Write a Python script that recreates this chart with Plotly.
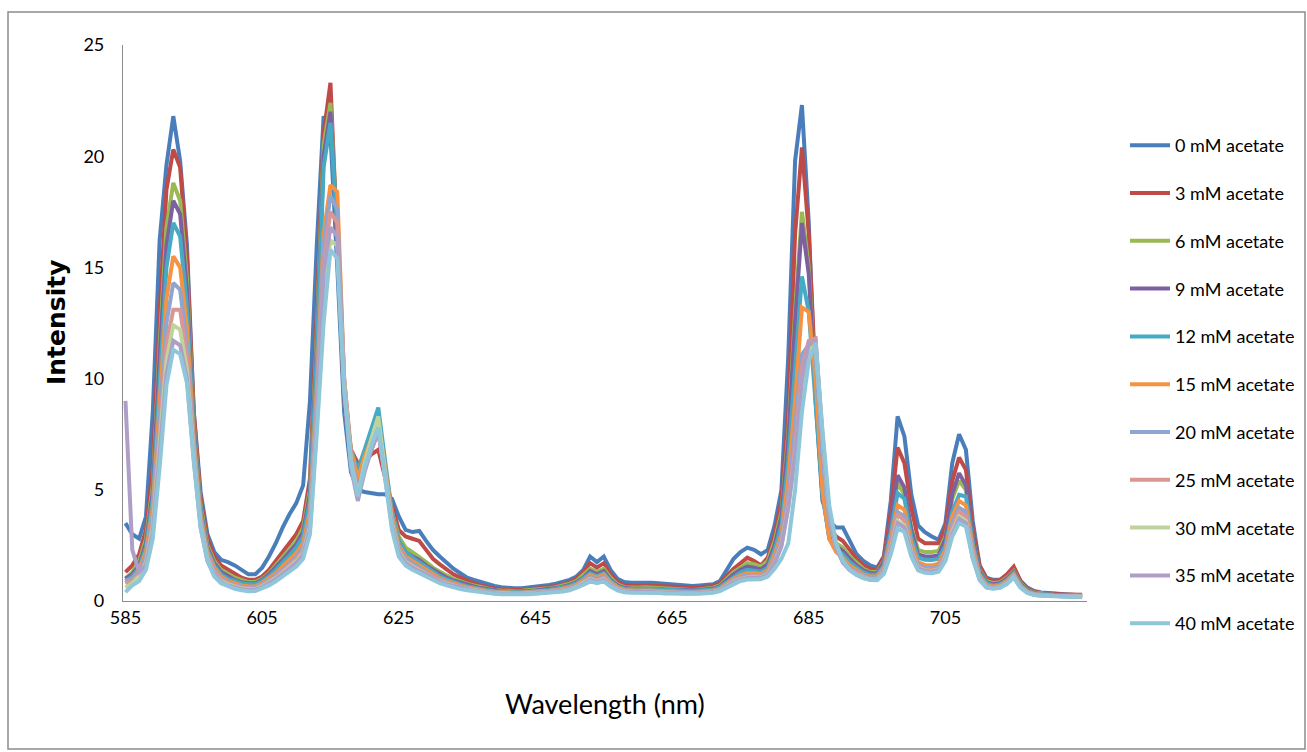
import plotly.graph_objects as go

wavelength = list(range(585, 726))

series_names = ["0 mM acetate", "3 mM acetate", "6 mM acetate", "9 mM acetate",
                "12 mM acetate", "15 mM acetate", "20 mM acetate", "25 mM acetate",
                "30 mM acetate", "35 mM acetate", "40 mM acetate"]

colors = ["#4A7EBB", "#BE4B48", "#98B954", "#7D60A0", "#46AAC5", "#F69240",
          "#8EA5D1", "#D99694", "#BFD49B", "#AD9FC7", "#8FC6DA"]

acetate_0 = [3.5, 3.0, 2.8, 3.8, 8.5, 16.2, 19.6, 21.8, 19.8, 16.0, 8.5, 4.9, 3.0, 2.2, 1.85, 1.75,
             1.6, 1.4, 1.2, 1.2, 1.5, 2.0, 2.6, 3.3, 3.9, 4.4, 5.2, 9.0, 16.0, 21.8,
             21.0, 15.0, 8.5, 5.8, 5.0, 4.9, 4.85, 4.8, 4.8, 4.6, 3.8, 3.2, 3.1, 3.15, 2.7, 2.3,
             2.0, 1.7, 1.45, 1.25, 1.05, 0.95, 0.85, 0.75, 0.68, 0.62, 0.58, 0.57, 0.57, 0.6, 0.63, 0.67, 0.72, 0.78, 0.85, 0.95,
             1.1, 1.4, 2.0, 1.75, 2.0, 1.4, 1.0, 0.85, 0.82, 0.82, 0.85, 0.82, 0.8, 0.78, 0.75, 0.72, 0.68, 0.68, 0.7, 0.72,
             0.75, 0.9, 1.4, 1.9, 2.2, 2.4, 2.3, 2.1, 2.3, 3.4, 5.0, 11.0, 19.8, 22.3, 17.0, 9.0, 4.5, 3.6, 3.3, 3.3,
             2.7, 2.1, 1.8, 1.6, 1.5, 2.0, 4.5, 8.3, 7.4, 4.8, 3.4, 3.1, 2.9, 2.75, 3.5, 6.2, 7.5, 6.8, 3.6, 1.6,
             1.05, 0.95, 0.95, 1.1, 1.45, 0.9, 0.6, 0.45, 0.38, 0.35, 0.32, 0.3, 0.28, 0.27, 0.27]

acetate_3 = [1.3, 1.6, 2.1, 3.2, 6.0, 13.0, 18.5, 20.3, 19.5, 15.5, 8.5, 4.6, 2.8, 2.0, 1.6, 1.4,
             1.2, 1.05, 0.95, 0.95, 1.1, 1.4, 1.8, 2.2, 2.6, 3.0, 3.6, 5.5, 13.0, 21.0,
             23.3, 16.5, 9.0, 6.8, 6.2, 6.3, 6.6, 6.8, 5.5, 4.3, 3.2, 2.9, 2.8, 2.7, 2.3, 1.9,
             1.65, 1.4, 1.2, 1.05, 0.9, 0.8, 0.7, 0.62, 0.56, 0.52, 0.5, 0.5, 0.5, 0.52, 0.55, 0.58, 0.62, 0.68, 0.75, 0.85,
             1.0, 1.3, 1.7, 1.5, 1.7, 1.2, 0.85, 0.72, 0.7, 0.7, 0.72, 0.7, 0.68, 0.66, 0.64, 0.62, 0.6, 0.6, 0.62, 0.64,
             0.68, 0.8, 1.15, 1.45, 1.7, 1.95, 1.8, 1.6, 1.95, 3.0, 4.5, 8.5, 16.5, 20.4, 16.5, 10.0, 5.2, 3.3, 2.9, 2.7,
             2.3, 1.9, 1.6, 1.45, 1.4, 2.0, 4.0, 6.9, 6.2, 4.2, 2.8, 2.6, 2.6, 2.6, 3.3, 5.4, 6.45, 5.9, 3.2, 1.6,
             1.0, 0.9, 0.95, 1.2, 1.55, 0.9, 0.55, 0.42, 0.36, 0.33, 0.31, 0.3, 0.29, 0.28, 0.28]

acetate_6 = [1.0, 1.3, 1.8, 2.8, 5.2, 11.5, 16.8, 18.8, 18.0, 14.5, 8.0, 4.3, 2.5, 1.8, 1.4, 1.2,
             1.05, 0.95, 0.85, 0.85, 1.0, 1.25, 1.6, 1.95, 2.35, 2.7, 3.3, 5.0, 12.0, 20.5,
             22.4, 16.5, 9.0, 6.3, 5.4, 6.3, 7.2, 8.0, 6.0, 4.0, 2.9, 2.4, 2.2, 2.0, 1.75, 1.5,
             1.3, 1.15, 1.0, 0.88, 0.78, 0.7, 0.62, 0.56, 0.5, 0.47, 0.45, 0.45, 0.46, 0.48, 0.5, 0.53, 0.57, 0.62, 0.68, 0.78,
             0.9, 1.15, 1.45, 1.3, 1.45, 1.05, 0.75, 0.62, 0.6, 0.6, 0.62, 0.6, 0.58, 0.56, 0.54, 0.52, 0.5, 0.5, 0.52, 0.55,
             0.6, 0.7, 1.0, 1.3, 1.5, 1.7, 1.65, 1.55, 1.8, 2.7, 4.0, 7.5, 13.0, 17.5, 15.0, 9.5, 5.0, 3.0, 2.6, 2.4,
             2.0, 1.7, 1.45, 1.3, 1.3, 1.8, 3.4, 5.3, 4.8, 3.3, 2.3, 2.2, 2.2, 2.25, 2.9, 4.6, 5.4, 5.0, 2.8, 1.4,
             0.9, 0.8, 0.85, 1.05, 1.35, 0.8, 0.5, 0.38, 0.33, 0.3, 0.28, 0.27, 0.26, 0.25, 0.25]

acetate_9 = [1.0, 1.2, 1.6, 2.6, 4.9, 11.0, 16.0, 18.0, 17.4, 14.0, 7.8, 4.1, 2.4, 1.7, 1.3, 1.1,
             0.95, 0.85, 0.8, 0.8, 0.95, 1.2, 1.5, 1.85, 2.2, 2.55, 3.1, 4.8, 11.5, 20.0,
             22.0, 16.5, 9.0, 6.3, 5.3, 6.1, 6.9, 7.6, 5.8, 3.8, 2.7, 2.2, 2.0, 1.85, 1.6, 1.4,
             1.2, 1.05, 0.92, 0.82, 0.72, 0.65, 0.58, 0.52, 0.47, 0.44, 0.42, 0.42, 0.43, 0.45, 0.47, 0.5, 0.54, 0.58, 0.64, 0.72,
             0.85, 1.05, 1.35, 1.2, 1.35, 0.95, 0.7, 0.58, 0.56, 0.56, 0.58, 0.56, 0.54, 0.52, 0.5, 0.49, 0.48, 0.48, 0.5, 0.52,
             0.56, 0.66, 0.92, 1.2, 1.4, 1.55, 1.5, 1.42, 1.65, 2.5, 3.8, 7.2, 12.5, 17.0, 14.7, 9.3, 4.8, 2.9, 2.45, 2.25,
             1.9, 1.6, 1.38, 1.25, 1.25, 1.75, 3.5, 5.65, 5.1, 3.2, 2.1, 2.0, 2.0, 2.05, 2.8, 4.8, 5.75, 5.2, 2.8, 1.35,
             0.85, 0.75, 0.8, 1.0, 1.3, 0.75, 0.48, 0.36, 0.31, 0.29, 0.27, 0.26, 0.25, 0.24, 0.24]

acetate_12 = [0.9, 1.1, 1.5, 2.4, 4.6, 10.0, 15.0, 17.0, 16.4, 13.2, 7.5, 4.0, 2.3, 1.6, 1.2, 1.0,
              0.88, 0.8, 0.75, 0.75, 0.9, 1.1, 1.4, 1.7, 2.05, 2.4, 2.9, 4.5, 11.0, 19.5,
              21.5, 16.8, 9.3, 6.8, 5.9, 6.8, 7.8, 8.7, 6.3, 4.0, 2.7, 2.2, 1.95, 1.75, 1.5, 1.3,
              1.12, 0.98, 0.86, 0.76, 0.67, 0.6, 0.54, 0.49, 0.45, 0.42, 0.4, 0.4, 0.41, 0.42, 0.44, 0.47, 0.5, 0.55, 0.6, 0.68,
              0.8, 1.0, 1.25, 1.12, 1.25, 0.9, 0.66, 0.55, 0.53, 0.53, 0.55, 0.53, 0.51, 0.49, 0.47, 0.46, 0.45, 0.45, 0.47, 0.49,
              0.52, 0.62, 0.85, 1.1, 1.28, 1.4, 1.38, 1.32, 1.5, 2.3, 3.4, 6.3, 10.5, 14.6, 13.0, 9.0, 4.8, 2.8, 2.3, 2.1,
              1.75, 1.5, 1.3, 1.18, 1.18, 1.6, 3.1, 4.85, 4.6, 2.9, 1.95, 1.85, 1.84, 1.9, 2.5, 4.0, 4.77, 4.7, 2.6, 1.25,
              0.8, 0.7, 0.75, 0.95, 1.25, 0.72, 0.45, 0.34, 0.3, 0.28, 0.26, 0.25, 0.24, 0.23, 0.23]

acetate_15 = [0.8, 1.0, 1.4, 2.2, 4.2, 9.0, 13.6, 15.5, 15.0, 12.3, 7.2, 3.8, 2.2, 1.5, 1.1, 0.9,
              0.78, 0.7, 0.65, 0.66, 0.8, 1.0, 1.25, 1.55, 1.85, 2.15, 2.6, 4.0, 9.5, 16.5,
              18.7, 18.4, 10.0, 6.8, 5.5, 6.5, 7.3, 8.0, 6.0, 3.8, 2.5, 2.0, 1.8, 1.6, 1.38, 1.2,
              1.03, 0.9, 0.79, 0.7, 0.62, 0.55, 0.5, 0.45, 0.42, 0.39, 0.37, 0.37, 0.38, 0.39, 0.41, 0.43, 0.46, 0.5, 0.55, 0.62,
              0.74, 0.92, 1.18, 1.05, 1.18, 0.85, 0.62, 0.5, 0.48, 0.48, 0.5, 0.48, 0.46, 0.44, 0.42, 0.41, 0.4, 0.4, 0.42, 0.44,
              0.47, 0.56, 0.78, 1.0, 1.15, 1.25, 1.25, 1.2, 1.38, 2.1, 3.0, 5.5, 9.0, 13.2, 13.0, 10.0, 5.0, 2.8, 2.2, 1.95,
              1.6, 1.38, 1.2, 1.1, 1.1, 1.5, 2.8, 4.3, 4.1, 2.6, 1.75, 1.62, 1.6, 1.68, 2.3, 3.8, 4.5, 4.3, 2.4, 1.15,
              0.72, 0.65, 0.7, 0.9, 1.2, 0.68, 0.42, 0.32, 0.28, 0.26, 0.25, 0.24, 0.23, 0.22, 0.22]

acetate_20 = [0.9, 1.0, 1.3, 2.0, 3.9, 8.3, 12.5, 14.3, 14.0, 11.5, 6.9, 3.6, 2.1, 1.4, 1.0, 0.85,
              0.72, 0.65, 0.6, 0.61, 0.74, 0.92, 1.15, 1.42, 1.7, 2.0, 2.4, 3.7, 9.0, 16.0,
              18.2, 17.6, 10.0, 6.6, 5.0, 6.2, 7.0, 7.8, 5.8, 3.6, 2.4, 1.9, 1.7, 1.5, 1.3, 1.12,
              0.97, 0.85, 0.75, 0.66, 0.58, 0.52, 0.47, 0.43, 0.4, 0.37, 0.35, 0.35, 0.36, 0.37, 0.39, 0.41, 0.44, 0.48, 0.52, 0.58,
              0.7, 0.86, 1.1, 0.98, 1.1, 0.8, 0.58, 0.47, 0.45, 0.45, 0.47, 0.45, 0.43, 0.41, 0.4, 0.39, 0.38, 0.38, 0.4, 0.42,
              0.45, 0.53, 0.74, 0.94, 1.08, 1.17, 1.18, 1.15, 1.3, 1.9, 2.8, 4.8, 7.8, 11.1, 11.5, 11.0, 6.5, 3.6, 2.4, 1.85,
              1.5, 1.3, 1.15, 1.05, 1.05, 1.42, 2.6, 4.0, 3.8, 2.4, 1.62, 1.5, 1.48, 1.55, 2.15, 3.5, 4.2, 4.0, 2.2, 1.08,
              0.68, 0.62, 0.66, 0.85, 1.15, 0.65, 0.4, 0.3, 0.27, 0.25, 0.24, 0.23, 0.22, 0.21, 0.21]

acetate_25 = [0.8, 0.9, 1.2, 1.8, 3.5, 7.6, 11.5, 13.1, 13.1, 11.0, 6.7, 3.5, 2.0, 1.3, 0.95, 0.8,
              0.68, 0.6, 0.56, 0.57, 0.7, 0.86, 1.08, 1.34, 1.6, 1.88, 2.25, 3.5, 8.5, 15.2,
              17.5, 17.0, 10.0, 6.4, 4.9, 6.0, 6.8, 7.6, 5.6, 3.5, 2.3, 1.8, 1.6, 1.42, 1.23, 1.06,
              0.92, 0.81, 0.71, 0.63, 0.56, 0.5, 0.45, 0.41, 0.38, 0.35, 0.34, 0.34, 0.34, 0.35, 0.37, 0.39, 0.42, 0.45, 0.5, 0.55,
              0.66, 0.82, 1.03, 0.92, 1.03, 0.76, 0.55, 0.45, 0.43, 0.43, 0.45, 0.43, 0.41, 0.4, 0.38, 0.37, 0.36, 0.36, 0.38, 0.4,
              0.43, 0.5, 0.7, 0.9, 1.03, 1.1, 1.12, 1.1, 1.25, 1.8, 2.6, 4.5, 7.0, 10.5, 11.7, 11.8, 7.2, 3.8, 2.45, 1.8,
              1.45, 1.25, 1.1, 1.0, 1.0, 1.35, 2.45, 3.9, 3.6, 2.3, 1.55, 1.42, 1.4, 1.47, 2.05, 3.3, 4.0, 3.8, 2.1, 1.04,
              0.65, 0.6, 0.64, 0.82, 1.12, 0.63, 0.39, 0.29, 0.26, 0.24, 0.23, 0.22, 0.21, 0.2, 0.2]

acetate_30 = [0.6, 0.8, 1.1, 1.7, 3.3, 7.0, 10.8, 12.4, 12.2, 10.4, 6.5, 3.4, 1.9, 1.2, 0.9, 0.75,
              0.64, 0.57, 0.53, 0.54, 0.66, 0.82, 1.02, 1.27, 1.52, 1.78, 2.15, 3.3, 8.0, 14.2,
              16.2, 16.0, 9.8, 6.3, 4.7, 6.2, 7.3, 8.3, 5.8, 3.5, 2.2, 1.75, 1.55, 1.37, 1.18, 1.02,
              0.88, 0.78, 0.68, 0.6, 0.54, 0.48, 0.43, 0.39, 0.36, 0.34, 0.33, 0.33, 0.33, 0.34, 0.36, 0.38, 0.4, 0.43, 0.47, 0.52,
              0.63, 0.78, 0.98, 0.88, 0.98, 0.72, 0.52, 0.43, 0.41, 0.41, 0.43, 0.41, 0.4, 0.38, 0.37, 0.36, 0.35, 0.35, 0.37, 0.39,
              0.41, 0.48, 0.67, 0.86, 0.98, 1.05, 1.07, 1.05, 1.2, 1.7, 2.5, 4.2, 6.6, 9.8, 11.3, 11.5, 7.4, 3.9, 2.4, 1.75,
              1.4, 1.2, 1.06, 0.97, 0.97, 1.3, 2.3, 3.6, 3.4, 2.2, 1.5, 1.37, 1.35, 1.42, 1.95, 3.1, 3.8, 3.6, 2.0, 1.0,
              0.63, 0.58, 0.62, 0.8, 1.1, 0.62, 0.38, 0.28, 0.25, 0.23, 0.22, 0.21, 0.2, 0.2, 0.2]

acetate_35 = [9.0, 2.3, 1.3, 1.6, 3.1, 6.6, 10.2, 11.7, 11.5, 10.0, 6.3, 3.3, 1.8, 1.2, 0.85, 0.7,
              0.6, 0.54, 0.5, 0.51, 0.63, 0.78, 0.98, 1.22, 1.46, 1.72, 2.08, 3.2, 8.0, 14.8,
              16.8, 16.4, 9.6, 6.0, 4.5, 5.8, 6.8, 7.7, 5.6, 3.4, 2.15, 1.7, 1.5, 1.33, 1.15, 1.0,
              0.86, 0.76, 0.67, 0.59, 0.53, 0.47, 0.42, 0.38, 0.35, 0.33, 0.32, 0.32, 0.32, 0.33, 0.35, 0.37, 0.39, 0.42, 0.46, 0.51,
              0.61, 0.76, 0.95, 0.86, 0.95, 0.7, 0.51, 0.42, 0.4, 0.4, 0.42, 0.4, 0.39, 0.37, 0.36, 0.35, 0.34, 0.34, 0.36, 0.38,
              0.4, 0.47, 0.65, 0.84, 0.96, 1.03, 1.05, 1.03, 1.18, 1.68, 2.45, 4.2, 6.6, 10.0, 11.6, 11.7, 7.5, 3.9, 2.4, 1.72,
              1.38, 1.18, 1.04, 0.95, 0.95, 1.28, 2.25, 3.5, 3.3, 2.15, 1.47, 1.35, 1.33, 1.4, 1.9, 3.0, 3.7, 3.5, 1.95, 0.98,
              0.62, 0.57, 0.61, 0.79, 1.08, 0.61, 0.37, 0.28, 0.25, 0.23, 0.22, 0.21, 0.2, 0.19, 0.19]

acetate_40 = [0.4, 0.7, 0.9, 1.4, 2.8, 6.0, 9.7, 11.3, 11.1, 9.8, 6.3, 3.3, 1.8, 1.1, 0.8, 0.65,
              0.55, 0.48, 0.44, 0.45, 0.56, 0.7, 0.88, 1.1, 1.32, 1.55, 1.9, 3.0, 7.5, 12.5,
              15.8, 15.4, 9.5, 6.2, 4.7, 6.0, 7.0, 7.8, 5.5, 3.2, 2.0, 1.6, 1.4, 1.24, 1.07, 0.93,
              0.8, 0.7, 0.61, 0.54, 0.48, 0.43, 0.39, 0.35, 0.32, 0.3, 0.29, 0.29, 0.29, 0.3, 0.32, 0.34, 0.36, 0.39, 0.43, 0.48,
              0.58, 0.72, 0.88, 0.8, 0.88, 0.65, 0.48, 0.39, 0.37, 0.37, 0.39, 0.37, 0.36, 0.34, 0.33, 0.32, 0.31, 0.31, 0.33, 0.35,
              0.37, 0.44, 0.6, 0.78, 0.9, 0.97, 0.99, 0.98, 1.1, 1.45, 1.9, 2.6, 5.0, 8.5, 10.8, 11.6, 7.7, 4.3, 2.6, 1.8,
              1.4, 1.17, 1.03, 0.94, 0.93, 1.22, 2.1, 3.27, 3.1, 2.0, 1.38, 1.27, 1.25, 1.32, 1.8, 2.9, 3.5, 3.35, 1.9, 0.95,
              0.6, 0.55, 0.59, 0.76, 1.05, 0.59, 0.36, 0.27, 0.24, 0.22, 0.21, 0.2, 0.19, 0.19, 0.19]

all_series = [acetate_0, acetate_3, acetate_6, acetate_9, acetate_12, acetate_15,
              acetate_20, acetate_25, acetate_30, acetate_35, acetate_40]

x_ticks = [585, 605, 625, 645, 665, 685, 705]
y_ticks = [0, 5, 10, 15, 20, 25]

FONT = "Lato, 'Open Sans', sans-serif"

fig = go.Figure()
for i, (name, vals, col) in enumerate(zip(series_names, all_series, colors)):
    fig.add_trace(go.Scatter(
        x=wavelength[:len(vals)], y=vals, mode="lines", name=name,
        line=dict(color=col, width=4), legendgroup=f"g{i}",
    ))

L, R, T, B = 123, 220, 45, 151
W, H = 1307, 752
pw, ph = W - L - R, H - T - B

fig.update_layout(
    width=W, height=H,
    margin=dict(l=L, r=R, t=T, b=B, pad=0, autoexpand=False),
    paper_bgcolor="white", plot_bgcolor="white",
    font=dict(family=FONT, color="black", size=18),
    showlegend=True,
    legend=dict(
        x=(1125 - L) / pw, xanchor="left",
        y=(H - B - 127) / ph, yanchor="top",
        font=dict(size=18, family=FONT, color="black"),
        tracegroupgap=21.4, itemwidth=40, bgcolor="rgba(0,0,0,0)",
    ),
    xaxis=dict(
        range=[584.64, 725.72], tickvals=x_ticks, ticktext=[str(v) for v in x_ticks],
        showline=True, linecolor="#8C8C8C", linewidth=1.2, showgrid=False, zeroline=False,
        ticks="", tickfont=dict(size=18, family=FONT, color="black"), ticklabelstandoff=0,
    ),
    yaxis=dict(
        range=[0, 25], tickvals=y_ticks,
        showline=True, linecolor="#8C8C8C", linewidth=1.2, showgrid=False, zeroline=False,
        ticks="", tickfont=dict(size=18, family=FONT, color="black"), ticklabelstandoff=14,
    ),
    annotations=[
        dict(text="Wavelength (nm)", xref="paper", yref="paper",
             x=0.5, y=-(703 - (H - B)) / ph, xanchor="center", yanchor="middle",
             showarrow=False, font=dict(size=27, family=FONT, color="black")),
        dict(text="<b>Intensity</b>", xref="paper", yref="paper",
             x=-(L - 56) / pw, y=(H - B - 322) / ph, xanchor="center", yanchor="middle",
             textangle=-90, showarrow=False,
             font=dict(size=25, family="'DejaVu Sans', Lato, sans-serif", color="black")),
    ],
    shapes=[dict(type="rect", xref="paper", yref="paper",
                 x0=(8 - L) / pw, x1=(1305 - L) / pw,
                 y0=-(749 - (H - B)) / ph, y1=(H - B - 12) / ph,
                 line=dict(color="#8C8C8C", width=1.5), fillcolor="rgba(0,0,0,0)", layer="below")],
)

fig.write_html("out.html")
